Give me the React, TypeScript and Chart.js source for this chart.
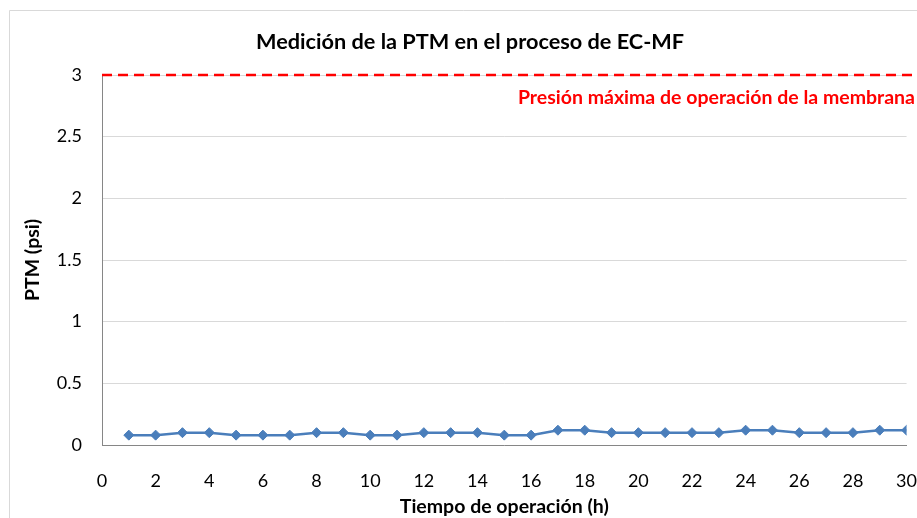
import React, { useEffect, useRef } from "react";
import { Chart, registerables } from "chart.js";

Chart.register(...registerables);

const TITLE = "Medición de la PTM en el proceso de EC-MF";
const X_TITLE = "Tiempo de operación (h)";
const Y_TITLE = "PTM (psi)";
const LIMIT_LABEL = "Presión máxima de operación de la membrana";

const hours = [1, 2, 3, 4, 5, 6, 7, 8, 9, 10, 11, 12, 13, 14, 15, 16, 17, 18, 19, 20, 21, 22, 23, 24, 25, 26, 27, 28, 29, 30];
const ptm = [0.08, 0.08, 0.1, 0.1, 0.08, 0.08, 0.08, 0.1, 0.1, 0.08, 0.08, 0.1, 0.1, 0.1, 0.08, 0.08, 0.12, 0.12, 0.1, 0.1, 0.1, 0.1, 0.1, 0.12, 0.12, 0.1, 0.1, 0.1, 0.12, 0.12];

const limitX = [0, 30.4];
const limitY = [3, 3];

const FONT = "Lato, 'Open Sans', sans-serif";

const decorPlugin = {
  id: "decor",
  beforeDraw(chart: any) {
    const { ctx, width, height } = chart;
    ctx.save();
    ctx.fillStyle = "#ffffff";
    ctx.fillRect(0, 0, width, height);
    ctx.strokeStyle = "#d9d9d9";
    ctx.lineWidth = 1;
    ctx.beginPath();
    ctx.moveTo(9.5, height);
    ctx.lineTo(9.5, 10.5);
    ctx.lineTo(width, 10.5);
    ctx.stroke();
    ctx.restore();
  },
  afterDraw(chart: any) {
    const { ctx } = chart;
    ctx.save();
    ctx.fillStyle = "#000000";
    ctx.font = `bold 21.7px ${FONT}`;
    ctx.textAlign = "center";
    ctx.textBaseline = "middle";
    ctx.fillText(TITLE, 470, 42);
    ctx.fillStyle = "#ff0000";
    ctx.font = `bold 19.5px ${FONT}`;
    ctx.textAlign = "right";
    ctx.fillText(LIMIT_LABEL, 915, 98);
    ctx.restore();
  },
};

export default function App() {
  const ref = useRef<HTMLCanvasElement>(null);
  useEffect(() => {
    if (!ref.current) return;
    const chart = new Chart(ref.current, {
      type: "scatter",
      data: {
        datasets: [
          {
            label: "PTM",
            data: hours.map((h, i) => ({ x: h, y: ptm[i] })),
            showLine: true,
            borderColor: "#4a7ebb",
            backgroundColor: "#4a7ebb",
            borderWidth: 2.5,
            pointStyle: "rectRot",
            pointRadius: 5,
            pointBorderWidth: 1,
          },
          {
            label: "Límite",
            data: limitX.map((x, i) => ({ x, y: limitY[i] })),
            showLine: true,
            borderColor: "#ff0000",
            borderWidth: 2.5,
            borderDash: [10, 6],
            pointRadius: 0,
            clip: false,
          } as any,
        ],
      },
      options: {
        responsive: false,
        animation: false,
        layout: { padding: { left: 9, top: 75, right: 10, bottom: 0 } },
        plugins: {
          legend: { display: false },
          title: { display: false },
          tooltip: { enabled: false },
        },
        scales: {
          x: {
            type: "linear",
            min: 0,
            max: 30,
            afterFit: (s: any) => {
              s.height = 73;
            },
            ticks: {
              stepSize: 2,
              padding: 0,
              color: "#000000",
              font: { family: FONT, size: 18 },
              callback: (v: any) => String(+v),
              maxRotation: 0,
            },
            grid: {
              display: true,
              drawOnChartArea: false,
              drawTicks: true,
              tickLength: 25,
              tickColor: "rgba(0,0,0,0)",
            },
            border: { display: true, color: "#868686", width: 1 },
            title: {
              display: true,
              text: X_TITLE,
              color: "#000000",
              font: { family: FONT, size: 19.5, weight: "bold" },
              padding: { top: 0, bottom: 0 },
            },
          },
          y: {
            type: "linear",
            min: 0,
            max: 3,
            afterFit: (s: any) => {
              s.width = 93;
            },
            ticks: {
              stepSize: 0.5,
              padding: 0,
              color: "#000000",
              font: { family: FONT, size: 18 },
              callback: (v: any) => String(+v),
            },
            grid: {
              color: "#d9d9d9",
              drawTicks: true,
              tickLength: 20,
              tickColor: "rgba(0,0,0,0)",
            },
            border: { display: true, color: "#868686", width: 1 },
            title: {
              display: true,
              text: Y_TITLE,
              color: "#000000",
              font: { family: FONT, size: 19.5, weight: "bold" },
              padding: { top: 12, bottom: 0 },
            },
          },
        },
      },
      plugins: [decorPlugin],
    });
    return () => chart.destroy();
  }, []);
  return (
    <div style={{ position: "fixed", left: 0, top: 0, width: 917, height: 518 }}>
      <canvas ref={ref} width={917} height={518} />
    </div>
  );
}
